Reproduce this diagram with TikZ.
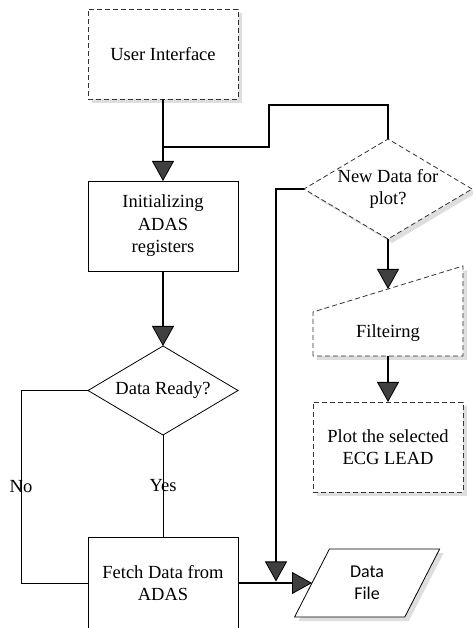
\documentclass[tikz,border=0pt]{standalone}
\usepackage{fontspec}
\setmainfont{Liberation Serif}
\newfontfamily\calibrifont{Carlito}
\usetikzlibrary{positioning, shapes.geometric, arrows.meta, shadows, backgrounds}

\begin{document}
\begin{tikzpicture}[
    font=\fontsize{18.5}{22.5}\selectfont,
    grayshadow/.style={drop shadow={shadow xshift=4pt, shadow yshift=-4pt, fill=black!13, opacity=1}},
    dashline/.style={line width=0.8pt, draw=black!80, dash pattern=on 5pt off 3pt},
    block/.style={rectangle, draw, line width=0.8pt, fill=white, minimum width=150pt, minimum height=90pt, align=center, inner sep=2pt, outer sep=0pt},
    dashblock/.style={block, dashline, grayshadow},
    decision/.style={diamond, draw, line width=0.8pt, fill=white, inner sep=0pt, outer sep=0pt, align=center},
    flow/.style={line width=2.4pt, -{Triangle[width=22pt, length=20pt, fill=black!75, line width=0.8pt]}},
    wire/.style={line width=2.4pt},
    branch/.style={line width=0.8pt}
  ]
    \useasboundingbox (0,0) rectangle (473pt,628pt);

    \node[dashblock] (ui) at (163pt,574pt) {User Interface};
    \node[block, below=82pt of ui] (init) {Initializing\\ADAS\\registers};
    \node[decision, below=75pt of init, aspect=1.685, minimum width=150pt, minimum height=89pt] (ready) {Data Ready?};
    \node[block, below=102pt of ready, minimum height=92pt] (fetch) {Fetch Data from\\ADAS};

    \node[decision, dashline, grayshadow, aspect=1.68, minimum width=168pt, minimum height=100pt] (newdata) at (388pt,439pt) {New Data for\\plot?};
    \node[minimum width=150pt, minimum height=67pt, inner sep=0pt, outer sep=0pt, text height=35pt, text depth=4pt, below=50pt of newdata] (filt) {Filteirng};
    \node[dashblock, below=46pt of filt] (plot) {Plot the selected\\ECG LEAD};

    \node[trapezium, draw, line width=0.8pt, fill=white, grayshadow, trapezium stretches=true,
          trapezium left angle=65, trapezium right angle=115, minimum width=146pt, minimum height=68pt,
          inner sep=0pt, outer sep=0pt, align=center, font=\calibrifont\fontsize{18}{22}\selectfont,
          right=74pt of fetch] (datafile) {Data\\File};

    % manual input outline
    \begin{scope}[on background layer]
        \draw[dashline, fill=white, grayshadow] (filt.south west) -- ([yshift=-23pt]filt.north west)
            -- ([yshift=23pt]filt.north east) -- (filt.south east) -- cycle;
    \end{scope}

    \coordinate[below=48pt of ui.south] (join);
    \coordinate[above right=1.5pt and 38pt of fetch.east] (drop);

    % Flow
    \draw[flow] (ui) -- (init);
    \draw[wire] (newdata.north) -- ++(0,34pt) -| ([xshift=106pt]join) -- (join);
    \draw[flow] (init) -- (ready);
    \draw[branch] (ready.west) -- ++(-67pt,0) |- node[pos=0.25] {No} (fetch.west);
    \draw[branch] (ready.south) -- node[midway] {Yes} (fetch.north);
    \draw[flow] (fetch.east) -- (datafile.west);
    \draw[flow] (newdata.west) -| (drop);
    \draw[flow] (newdata.south) -- (filt.north);
    \draw[flow] (filt.south) -- (plot.north);
\end{tikzpicture}
\end{document}
